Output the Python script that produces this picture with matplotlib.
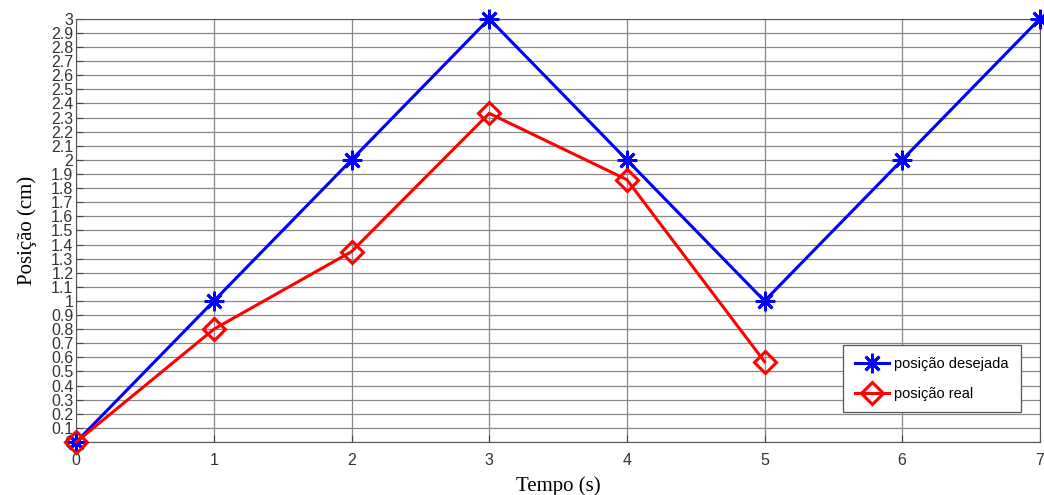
import numpy as np
import matplotlib
matplotlib.use("Agg")
import matplotlib.pyplot as plt

# dados
tempo_desejado = [0, 1, 2, 3, 4, 5, 6, 7]
pos_desejada = [0, 1, 2, 3, 2, 1, 2, 3]
tempo_real = [0, 1, 2, 3, 4, 5]
pos_real = [0, 0.80, 1.35, 2.33, 1.86, 0.57]

x_ticks = [0, 1, 2, 3, 4, 5, 6, 7]
y_ticks = np.round(np.arange(0, 3.01, 0.1), 1)
y_labels = ["0"] + ["%g" % v for v in y_ticks[1:]]

fig = plt.figure(figsize=(10.44, 4.95), dpi=100)
ax = fig.add_axes([0.073, 0.107, 0.923, 0.855])

ax.plot(tempo_desejado, pos_desejada, color="#0000ff", lw=2.2, marker=(8, 2, 0),
        ms=14, mew=2.0, label="posição desejada", zorder=3, clip_on=False)
ax.plot(tempo_real, pos_real, color="#ff0000", lw=2.2, marker="D", ms=11,
        mfc="none", mew=2.2, label="posição real", zorder=3, clip_on=False)

ax.set_xlim(0, 7)
ax.set_ylim(0, 3)
ax.set_xticks(x_ticks)
ax.set_yticks(y_ticks)
ax.set_yticklabels(y_labels)
ax.grid(True, color="#888888", lw=0.9)
ax.tick_params(direction="in", length=5, labelsize=11.5, color="#444444")
ax.tick_params(axis="y", pad=2)
ax.tick_params(axis="x", pad=8)
for lab in ax.get_xticklabels() + ax.get_yticklabels():
    lab.set_family("Liberation Sans")
    lab.set_color("#333333")
for s in ax.spines.values():
    s.set_color("#555555")

ax.set_xlabel("Tempo (s)", family="Liberation Serif", fontsize=15, labelpad=6)
ax.set_ylabel("Posição (cm)", family="Liberation Serif", fontsize=15, labelpad=10)

leg = ax.legend(loc="lower right", bbox_to_anchor=(0.98, 0.07),
                prop={"family": "Liberation Sans", "size": 10.5},
                fancybox=False, edgecolor="#555555", framealpha=1,
                handlelength=2.3, handletextpad=0.4, borderpad=0.8,
                labelspacing=1.1, borderaxespad=0)
leg.get_frame().set_linewidth(0.9)

fig.savefig("out.png", dpi=100)
